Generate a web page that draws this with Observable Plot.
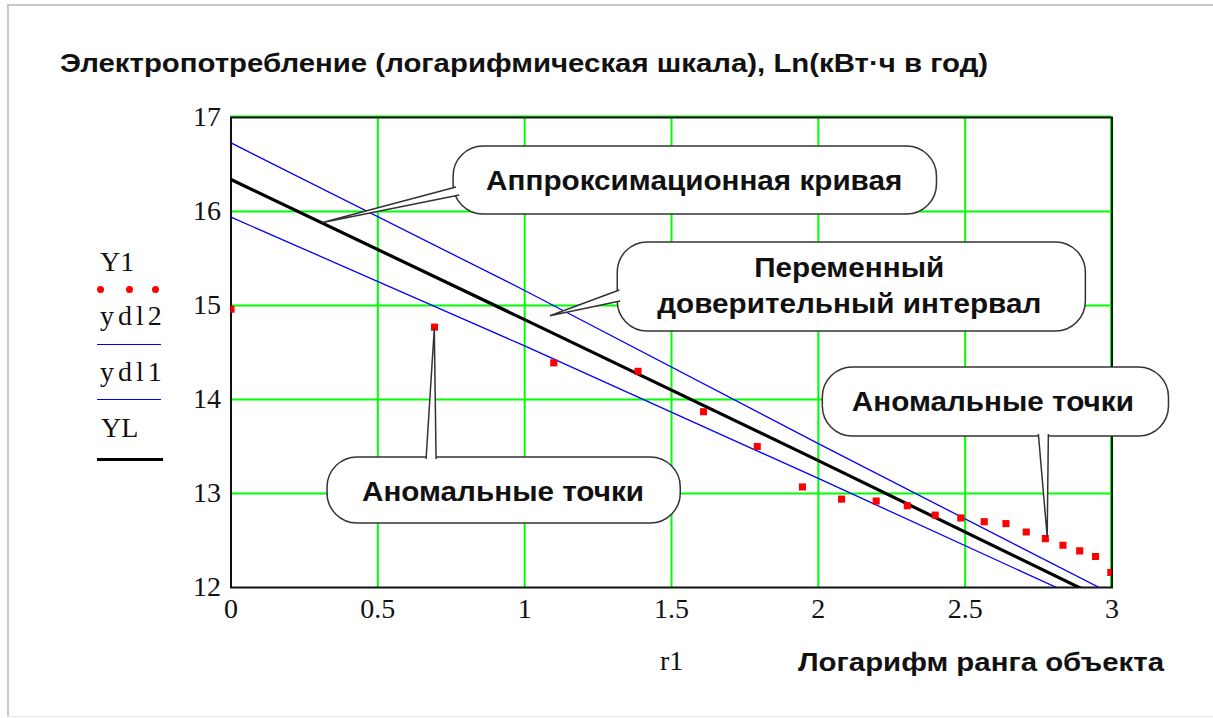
<!DOCTYPE html>
<html>
<head>
<meta charset="utf-8">
<script src="https://cdn.jsdelivr.net/npm/d3@7"></script>
<script src="https://cdn.jsdelivr.net/npm/@observablehq/plot@0.6"></script>
<style>
  html, body { margin: 0; padding: 0; background: #fff; overflow: hidden; }
  #page { position: relative; width: 1213px; height: 718px; overflow: hidden; }
  #border { position: absolute; left: 7px; top: 4px; right: 0; bottom: 1px;
            border-top: 2px solid #c9c9c9; border-left: 2px solid #c9c9c9; border-bottom: 1px solid #e4e4e4; }
  #title { position: relative; height: 90px; }
  .t { position: absolute; white-space: nowrap; line-height: 1; color: #111; transform-origin: 0 0; }
  .sans { font-family: "Liberation Sans", Arial, sans-serif; font-weight: bold; }
  .serif { font-family: "Liberation Serif", "Times New Roman", serif; }
  .bar { position: absolute; }
  .dot { position: absolute; width: 7px; height: 7px; border-radius: 50%; background: #ff0000; }
</style>
</head>
<body>
<div id="page">
  <div id="border"></div>
  <div id="title"></div>
  <div id="chart"></div>
</div>
<script>
// ---- data ----
const r1 = [0, 0.693, 1.099, 1.386, 1.609, 1.792, 1.946, 2.079, 2.197, 2.303,
            2.398, 2.485, 2.565, 2.639, 2.708, 2.773, 2.833, 2.890, 2.944, 2.996];
const Y1 = [14.96, 14.77, 14.39, 14.30, 13.87, 13.50, 13.07, 12.94, 12.92, 12.87,
            12.77, 12.74, 12.70, 12.68, 12.59, 12.52, 12.45, 12.39, 12.33, 12.16];

const lineX = [0, 1, 2, 3];
const ydl2 = [16.73, 15.16, 13.53, 11.93];
const YL   = [16.34, 14.85, 13.35, 11.83];
const ydl1 = [15.94, 14.57, 13.16, 11.73];

const xTicks = [0, 0.5, 1, 1.5, 2, 2.5, 3];
const xTickLabels = ["0", "0.5", "1", "1.5", "2", "2.5", "3"];
const yTicks = [12, 13, 14, 15, 16, 17];
const yTickLabels = ["12", "13", "14", "15", "16", "17"];
const xGrid = [0.5, 1, 1.5, 2, 2.5];
const yGrid = [13, 14, 15, 16];

const titleText = "Электропотребление (логарифмическая шкала), Ln(кВт·ч в год)";
const xLabelVar = "r1";
const xLabelText = "Логарифм ранга объекта";
const legendNames = ["Y1", "ydl2", "ydl1", "YL"];

// callout annotations (in data coordinates)
const callouts = [
  { lines: ["Аппроксимационная кривая"], box: [0.758, 2.404, 15.968, 16.691], text: [1.579, [16.33]],
    wedge: [[0.768, 16.255], [0.31, 15.874], [0.779, 16.170]] },
  { lines: ["Переменный", "доверительный интервал"], box: [1.317, 2.911, 14.723, 15.670], text: [2.107, [15.404, 15.021]],
    wedge: [[1.324, 15.160], [1.0876, 14.886], [1.327, 15.043]] },
  { lines: ["Аномальные точки"], box: [0.3288, 1.5315, 12.681, 13.383], text: [0.928, [13.021]],
    wedge: [[0.666, 13.362], [0.694, 14.752], [0.700, 13.362]] },
  { lines: ["Аномальные точки"], box: [2.0153, 3.194, 13.606, 14.340], text: [2.596, [13.979]],
    wedge: [[2.751, 13.628], [2.781, 12.535], [2.785, 13.628]] }
];

// ---- build ----
const points = r1.map((x, i) => ({x, y: Y1[i]}));
const mkLine = ys => lineX.map((x, i) => ({x, y: ys[i]}));

const SANS = '"Liberation Sans", Arial, sans-serif';
const SERIF = '"Liberation Serif", "Times New Roman", serif';

function calloutMark(index, scales) {
  const g = d3.create("svg:g");
  for (const c of callouts) {
    const [x0, x1, y0, y1] = c.box;
    const X0 = scales.x(x0), X1 = scales.x(x1), Ytop = scales.y(y1), Ybot = scales.y(y0);
    g.append("rect")
      .attr("x", X0).attr("y", Ytop).attr("width", X1 - X0).attr("height", Ybot - Ytop)
      .attr("rx", 30).attr("ry", 30)
      .attr("fill", "white").attr("stroke", "#333").attr("stroke-width", 1.5);
    const w = c.wedge.map(([a, b]) => [scales.x(a), scales.y(b)]);
    g.append("path")
      .attr("d", `M${w[0][0]},${w[0][1]}L${w[1][0]},${w[1][1]}L${w[2][0]},${w[2][1]}`)
      .attr("fill", "white").attr("stroke", "#333").attr("stroke-width", 1.5);
    c.lines.forEach((ln, i) => {
      g.append("text")
        .attr("transform", `translate(${scales.x(c.text[0])},${scales.y(c.text[1][i])}) scale(1.06,1)`)
        .attr("dy", "0.36em").attr("text-anchor", "middle")
        .attr("font-family", SANS).attr("font-weight", "bold").attr("font-size", 28)
        .attr("fill", "#111").text(ln);
    });
  }
  return g.node();
}

const chart = Plot.plot({
  width: 1213,
  height: 628,
  marginTop: 27,
  marginBottom: 131,
  marginLeft: 230.5,
  marginRight: 101.5,
  style: { background: "transparent", overflow: "visible" },
  x: { domain: [0, 3] },
  y: { domain: [12, 17] },
  marks: [
    Plot.ruleX(xGrid, { stroke: "#00ff00", strokeWidth: 2 }),
    Plot.ruleY(yGrid, { stroke: "#00ff00", strokeWidth: 2 }),
    Plot.ruleY([17], { stroke: "#00ff00", strokeWidth: 2, dy: -1 }),
    Plot.ruleX([3], { stroke: "#00ff00", strokeWidth: 2, dx: -1 }),
    Plot.frame({ stroke: "#111", strokeWidth: 2 }),
    Plot.line(mkLine(ydl2), { x: "x", y: "y", stroke: "#0000ff", strokeWidth: 1.3, clip: true }),
    Plot.line(mkLine(ydl1), { x: "x", y: "y", stroke: "#0000ff", strokeWidth: 1.3, clip: true }),
    Plot.line(mkLine(YL), { x: "x", y: "y", stroke: "#000", strokeWidth: 3.2, clip: true }),
    Plot.dot(points, { x: "x", y: "y", symbol: "square", r: 4, fill: "#ff0000", clip: true }),
    Plot.axisX({ ticks: xTicks, tickFormat: d => xTickLabels[xTicks.indexOf(d)], tickSize: 0, tickPadding: 11,
                 fontSize: 28, fontFamily: SERIF, fill: "#111", label: null }),
    Plot.axisY({ ticks: yTicks, tickFormat: d => yTickLabels[yTicks.indexOf(d)], tickSize: 0, tickPadding: 10,
                 fontSize: 28, fontFamily: SERIF, fill: "#111", label: null }),
    calloutMark
  ]
});
document.getElementById("chart").appendChild(chart);

// ---- text outside the plot ----
const page = document.getElementById("page");
function addText(parent, txt, cls, fs, left, baseline, extra) {
  const d = document.createElement("div");
  d.className = "t " + cls;
  d.style.fontSize = fs + "px";
  const k = cls === "serif" ? 0.8375 : 0.8465;
  d.style.left = left + "px";
  d.style.top = (baseline - k * fs) + "px";
  if (extra) Object.assign(d.style, extra);
  d.textContent = txt;
  parent.appendChild(d);
  return d;
}
function addBar(left, top, w, h, color) {
  const d = document.createElement("div");
  d.className = "bar";
  Object.assign(d.style, { left: left + "px", top: top + "px", width: w + "px", height: h + "px", background: color });
  page.appendChild(d);
}

addText(page, titleText, "sans", 26, 60, 71.7, { transform: "scaleX(1.13)" });
addText(page, xLabelVar, "serif", 28, 660, 670);
addText(page, xLabelText, "sans", 26, 798, 671, { transform: "scaleX(1.13)" });

// legend
addText(page, legendNames[0], "serif", 28, 100, 271.7);
[100.7, 129, 155.7].forEach(cx => {
  const d = document.createElement("div");
  d.className = "dot";
  d.style.left = (cx - 3.5) + "px";
  d.style.top = (289.3 - 3.5) + "px";
  page.appendChild(d);
});
addText(page, legendNames[1], "serif", 28, 100, 325, { letterSpacing: "4px" });
addBar(97, 343.5, 64, 1.5, "#0000ff");
addText(page, legendNames[2], "serif", 28, 100, 381.7, { letterSpacing: "4px" });
addBar(97, 398.5, 64, 1.5, "#0000ff");
addText(page, legendNames[3], "serif", 28, 101, 437.3);
addBar(97, 457.5, 66, 3.5, "#000");
</script>
</body>
</html>
